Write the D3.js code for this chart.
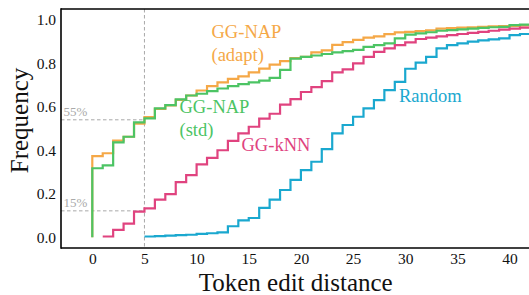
<!DOCTYPE html>
<html>
<head>
<meta charset="utf-8">
<script src="https://cdn.jsdelivr.net/npm/d3@7"></script>
<style>
  html, body { margin: 0; padding: 0; background: #fff; }
  svg { display: block; }
  svg text { font-family: "Liberation Serif", "Times New Roman", "DejaVu Serif", serif; }
</style>
</head>
<body>
<svg id="chart" width="529" height="295"></svg>
<script>
// ---- data ----
const xAdapt = [0, 0, 1, 2, 3, 4, 5, 6, 7, 8, 9, 10, 11, 12, 13, 14, 15, 16, 17, 18, 19, 20, 21, 22, 23, 24, 25, 26, 27, 28, 29, 30, 31, 32, 33, 34, 35, 36, 37, 38, 39, 40, 41, 42];
const yAdapt = [0, 0.373, 0.386, 0.444, 0.462, 0.522, 0.552, 0.59, 0.606, 0.632, 0.652, 0.675, 0.695, 0.712, 0.728, 0.74, 0.758, 0.776, 0.794, 0.81, 0.824, 0.83, 0.85, 0.86, 0.885, 0.898, 0.908, 0.918, 0.924, 0.934, 0.942, 0.945, 0.948, 0.952, 0.96, 0.962, 0.964, 0.966, 0.968, 0.97, 0.971, 0.972, 0.974, 0.975];

const xStd = [0, 0, 1, 2, 3, 4, 5, 6, 7, 8, 9, 10, 11, 12, 13, 14, 15, 16, 17, 18, 19, 20, 21, 22, 23, 24, 25, 26, 27, 28, 29, 30, 31, 32, 33, 34, 35, 36, 37, 38, 39, 40, 41, 42];
const yStd = [0, 0.317, 0.33, 0.436, 0.462, 0.528, 0.547, 0.593, 0.608, 0.634, 0.652, 0.66, 0.672, 0.684, 0.695, 0.704, 0.712, 0.72, 0.733, 0.77, 0.822, 0.83, 0.836, 0.843, 0.85, 0.856, 0.862, 0.876, 0.884, 0.892, 0.915, 0.932, 0.938, 0.943, 0.95, 0.953, 0.956, 0.96, 0.963, 0.966, 0.968, 0.976, 0.978, 0.98];

const xKnn = [1, 2, 3, 4, 5, 6, 7, 8, 9, 10, 11, 12, 13, 14, 15, 16, 17, 18, 19, 20, 21, 22, 23, 24, 25, 26, 27, 28, 29, 30, 31, 32, 33, 34, 35, 36, 37, 38, 39, 40, 41, 42];
const yKnn = [0.003, 0.033, 0.062, 0.117, 0.132, 0.173, 0.198, 0.253, 0.285, 0.335, 0.365, 0.40, 0.443, 0.478, 0.508, 0.545, 0.568, 0.61, 0.635, 0.668, 0.69, 0.718, 0.758, 0.772, 0.80, 0.83, 0.853, 0.869, 0.884, 0.896, 0.912, 0.918, 0.924, 0.93, 0.935, 0.94, 0.945, 0.95, 0.955, 0.96, 0.964, 0.966];

const xRand = [5, 6, 7, 8, 9, 10, 11, 12, 13, 14, 15, 16, 17, 18, 19, 20, 21, 22, 23, 24, 25, 26, 27, 28, 29, 30, 31, 32, 33, 34, 35, 36, 37, 38, 39, 40, 41, 42];
const yRand = [0.003, 0.005, 0.007, 0.009, 0.011, 0.015, 0.018, 0.022, 0.05, 0.077, 0.088, 0.135, 0.173, 0.217, 0.264, 0.308, 0.347, 0.405, 0.478, 0.516, 0.554, 0.593, 0.631, 0.677, 0.715, 0.775, 0.803, 0.83, 0.869, 0.884, 0.892, 0.90, 0.906, 0.91, 0.915, 0.93, 0.935, 0.94];

const xTicks = [0, 5, 10, 15, 20, 25, 30, 35, 40];
const yTicks = [0.0, 0.2, 0.4, 0.6, 0.8, 1.0];

const seriesNames = ["GG-NAP (adapt)", "GG-NAP (std)", "GG-kNN", "Random"];
const seriesColors = ["#f5a847", "#4cc464", "#e0437f", "#1aa8cf"];

const markX = 5;
const markYs = [0.54, 0.121];
const markLabels = ["55%", "15%"];

// ---- layout ----
const FONT = "Liberation Serif, Times New Roman, DejaVu Serif, serif";
const svg = d3.select("#chart");
const pL = 61, pR = 530.4, pT = 9, pB = 248;
const x = d3.scaleLinear().domain([-3, 42]).range([pL, pR]);
const y = d3.scaleLinear().domain([-0.05, 1.05]).range([pB, pT]);

svg.append("defs").append("clipPath").attr("id", "clip")
  .append("rect").attr("x", pL).attr("y", pT).attr("width", pR - pL).attr("height", pB - pT);

// dashed guides
const guideColor = "#a8a8a8";
svg.append("line")
  .attr("x1", x(markX)).attr("x2", x(markX))
  .attr("y1", pT).attr("y2", pB)
  .attr("stroke", guideColor).attr("stroke-width", 1).attr("stroke-dasharray", "3.5,2.5");
markYs.forEach((v, i) => {
  svg.append("line")
    .attr("x1", pL).attr("x2", x(markX))
    .attr("y1", y(v)).attr("y2", y(v))
    .attr("stroke", guideColor).attr("stroke-width", 1).attr("stroke-dasharray", "3.5,2.5");
  svg.append("text")
    .attr("x", pL + 2.5).attr("y", y(v) - 3.5)
    .attr("font-family", FONT)
    .attr("fill", "#aaaaaa").attr("font-size", 13)
    .text(markLabels[i]);
});

// curves
const series = [
  { xs: xAdapt, ys: yAdapt },
  { xs: xStd, ys: yStd },
  { xs: xKnn, ys: yKnn },
  { xs: xRand, ys: yRand }
];
const line = d3.line().x(d => x(d[0])).y(d => y(d[1])).curve(d3.curveStepAfter);
const g = svg.append("g").attr("clip-path", "url(#clip)");
series.forEach((s, i) => {
  const pts = s.xs.map((v, j) => [v, s.ys[j]]);
  g.append("path")
    .datum(pts)
    .attr("d", line)
    .attr("fill", "none")
    .attr("stroke", seriesColors[i])
    .attr("stroke-width", 2.2)
    .attr("stroke-linejoin", "miter");
});

// series labels
const labelFont = 18.5;
function seriesLabel(lines, px, py, color, gap) {
  lines.forEach((t, k) => {
    svg.append("text")
      .attr("x", px).attr("y", py + k * gap)
      .attr("font-family", FONT)
      .attr("fill", color).attr("font-size", labelFont)
      .text(t);
  });
}
seriesLabel(["GG-NAP", "(adapt)"], 211.5, 37.5, seriesColors[0], 23.5);
seriesLabel(["GG-NAP", "(std)"], 179.5, 112.5, seriesColors[1], 23);
seriesLabel(["GG-kNN"], 241.5, 150.5, seriesColors[2], 0);
seriesLabel(["Random"], 399, 101.5, seriesColors[3], 0);

// axes (labels only)
const xAxis = d3.axisBottom(x).tickValues(xTicks).tickSize(0).tickPadding(5).tickFormat(d3.format("d"));
const yAxis = d3.axisLeft(y).tickValues(yTicks).tickSize(0).tickPadding(5).tickFormat(d3.format(".1f"));
const gx = svg.append("g").attr("transform", `translate(0,${pB})`).call(xAxis);
const gy = svg.append("g").attr("transform", `translate(${pL},0)`).call(yAxis);
[gx, gy].forEach(a => {
  a.attr("font-family", FONT).attr("font-size", 15.5);
  a.select(".domain").remove();
  a.selectAll("text").attr("font-family", FONT).attr("font-size", 15.5).attr("fill", "#111");
});

// spines
svg.append("line").attr("x1", pL).attr("x2", 529).attr("y1", pT).attr("y2", pT).attr("stroke", "#000").attr("stroke-width", 1.6);
svg.append("line").attr("x1", pL).attr("x2", 529).attr("y1", pB).attr("y2", pB).attr("stroke", "#000").attr("stroke-width", 1.6);
svg.append("line").attr("x1", pL).attr("x2", pL).attr("y1", pT - 0.8).attr("y2", pB + 0.8).attr("stroke", "#000").attr("stroke-width", 1.6);

// axis titles
svg.append("text")
  .attr("x", (pL + pR) / 2).attr("y", 290.5)
  .attr("font-family", FONT)
  .attr("text-anchor", "middle").attr("font-size", 25).attr("fill", "#111")
  .text("Token edit distance");
svg.append("text")
  .attr("transform", `translate(28,120.5) rotate(-90)`)
  .attr("font-family", FONT)
  .attr("text-anchor", "middle").attr("font-size", 25).attr("fill", "#111")
  .text("Frequency");
</script>
</body>
</html>
